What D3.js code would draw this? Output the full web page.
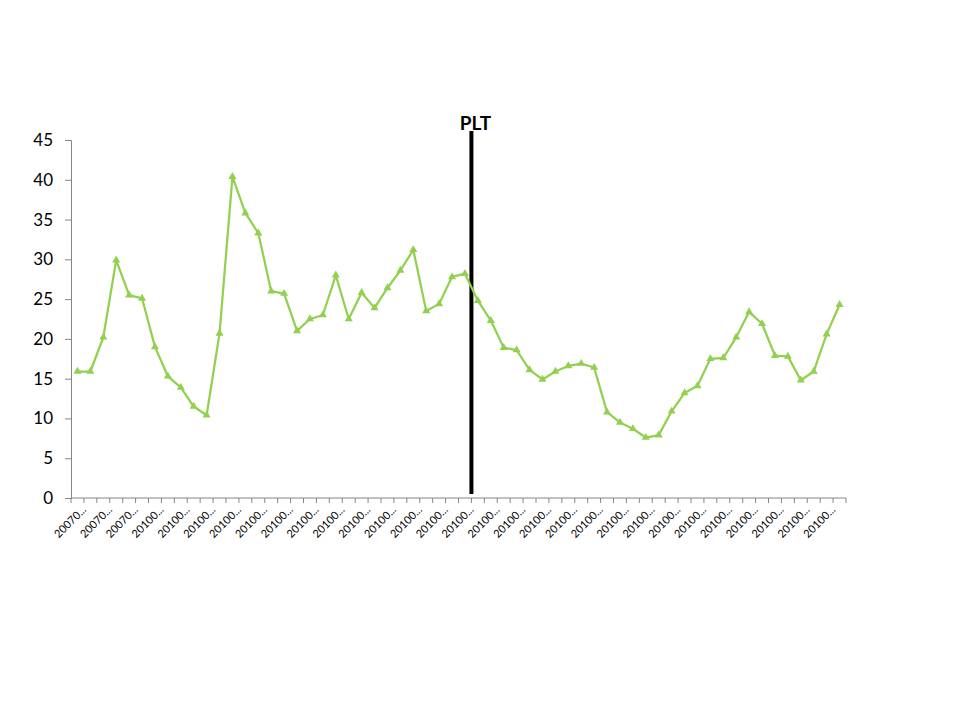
<!DOCTYPE html>
<html>
<head>
<meta charset="utf-8">
<script src="https://cdn.jsdelivr.net/npm/d3@7"></script>
<style>
  body { margin: 0; background: #fff; }
  svg text { font-family: Lato, "Open Sans", sans-serif; }
</style>
</head>
<body>
<div id="chart-area"></div>
<script>
// category labels (60 periods, every other one shown, truncated as in the source)
var prefixes = ['20070', '20070', '20070', '20070', '20070', '20070',
  '20100', '20100', '20100', '20100', '20100', '20100', '20100', '20100', '20100',
  '20100', '20100', '20100', '20100', '20100', '20100', '20100', '20100', '20100',
  '20100', '20100', '20100', '20100', '20100', '20100', '20100', '20100', '20100',
  '20100', '20100', '20100', '20100', '20100', '20100', '20100', '20100', '20100',
  '20100', '20100', '20100', '20100', '20100', '20100', '20100', '20100', '20100',
  '20100', '20100', '20100', '20100', '20100', '20100', '20100', '20100', '20100'];

var values = [15.9, 15.9, 20.2, 29.9, 25.5, 25.1, 19.0, 15.3, 13.9, 11.5,
  10.4, 20.7, 40.4, 35.8, 33.3, 26.0, 25.7, 21.0, 22.5, 23.0,
  28.0, 22.5, 25.8, 23.9, 26.4, 28.6, 31.2, 23.5, 24.4, 27.8,
  28.2, 24.8, 22.3, 18.9, 18.6, 16.1, 14.9, 15.9, 16.6, 16.9,
  16.4, 10.8, 9.5, 8.7, 7.6, 7.9, 10.9, 13.2, 14.1, 17.5,
  17.6, 20.2, 23.4, 21.9, 17.9, 17.8, 14.8, 15.9, 20.6, 24.3];

var yTicks = [0, 5, 10, 15, 20, 25, 30, 35, 40, 45];

// marker line "PLT" sits on the boundary after this many categories
var pltAfter = 31;
var pltLabel = 'PLT';

var svgWidth = 960, svgHeight = 720;
var margin = {left: 71, top: 140};
var width = 775, height = 358;

var svg = d3.select('#chart-area')
  .append('svg')
  .attr('width', svgWidth)
  .attr('height', svgHeight);

var g = svg.append('g')
  .attr('transform', 'translate(' + margin.left + ',' + margin.top + ')');

var idx = d3.range(values.length);

var xScale = d3.scaleBand()
  .domain(idx)
  .range([0, width]);

var yScale = d3.scaleLinear()
  .domain([0, 45])
  .range([height, 0]);

var axisColor = '#868686';

// Y axis
var yAxis = d3.axisLeft(yScale)
  .tickValues(yTicks)
  .tickSize(6)
  .tickPadding(12);

var yg = g.append('g').call(yAxis);
yg.select('.domain').attr('stroke', axisColor);
yg.selectAll('.tick line').attr('stroke', axisColor);
yg.selectAll('.tick text')
  .attr('font-size', 17)
  .attr('fill', '#000');

// X axis: line + ticks on category boundaries
var xg = g.append('g').attr('transform', 'translate(0,' + height + ')');
xg.append('line')
  .attr('x1', 0).attr('x2', width)
  .attr('stroke', axisColor);

xg.selectAll('.xt')
  .data(d3.range(values.length + 1))
  .enter()
  .append('line')
  .attr('class', 'xt')
  .attr('x1', function(d) { return d * xScale.bandwidth(); })
  .attr('x2', function(d) { return d * xScale.bandwidth(); })
  .attr('y1', 0)
  .attr('y2', 5)
  .attr('stroke', axisColor);

xg.selectAll('.xl')
  .data(idx.filter(function(i) { return i % 2 === 0; }))
  .enter()
  .append('text')
  .attr('class', 'xl')
  .attr('transform', function(i) {
    var cx = xScale(i) + xScale.bandwidth() / 2;
    return 'translate(' + (cx + 4) + ',7) rotate(-45)';
  })
  .attr('dy', '0.7em')
  .attr('text-anchor', 'end')
  .attr('font-size', 11)
  .attr('fill', '#000')
  .text(function(i) { return prefixes[i] + '...'; });

// PLT marker
var pltX = xScale.step() * pltAfter;
g.append('line')
  .attr('x1', pltX).attr('x2', pltX)
  .attr('y1', -9)
  .attr('y2', height - 4)
  .attr('stroke', '#000')
  .attr('stroke-width', 4);

g.append('text')
  .attr('x', pltX + 4)
  .attr('y', -10)
  .attr('text-anchor', 'middle')
  .attr('font-size', 19)
  .attr('font-weight', 'bold')
  .attr('fill', '#000')
  .text(pltLabel);

// series line
var green = '#92D050';
var line = d3.line()
  .x(function(d, i) { return xScale(i) + xScale.bandwidth() / 2; })
  .y(function(d) { return yScale(d); });

g.append('path')
  .datum(values)
  .attr('d', line)
  .attr('fill', 'none')
  .attr('stroke', green)
  .attr('stroke-width', 2.25)
  .attr('stroke-linejoin', 'round');

var tri = d3.symbol().type(d3.symbolTriangle).size(28);

g.selectAll('.pt')
  .data(values)
  .enter()
  .append('path')
  .attr('class', 'pt')
  .attr('d', tri)
  .attr('transform', function(d, i) {
    return 'translate(' + (xScale(i) + xScale.bandwidth() / 2) + ',' + yScale(d) + ')';
  })
  .attr('fill', green);
</script>
</body>
</html>
